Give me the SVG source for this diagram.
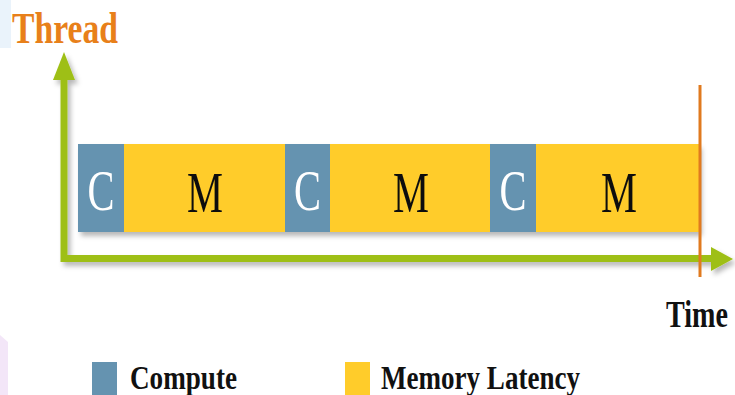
<svg xmlns="http://www.w3.org/2000/svg" width="735" height="395" viewBox="0 0 735 395">
  <defs>
    <filter id="shadow" x="-10%" y="-10%" width="130%" height="140%">
      <feDropShadow dx="3" dy="4" stdDeviation="2.5" flood-color="#000" flood-opacity="0.28"/>
    </filter>
    <style>
      .c { fill: #6593B0; }
      .m { fill: #FFCC2A; }
      .axis { stroke: #9EBF14; stroke-width: 7; fill: none; }
      .head { fill: #9EBF14; }
      .lc { font-family: "Liberation Serif", "Times New Roman", serif; font-size: 56px; fill: #ffffff; text-anchor: middle; }
      .lm { font-family: "Liberation Serif", "Times New Roman", serif; font-size: 56px; fill: #111111; text-anchor: middle; }
      .lbl { font-family: "Liberation Serif", "Times New Roman", serif; font-weight: bold; fill: #111111; }
    </style>
  </defs>
  <rect width="735" height="395" fill="#ffffff"/>
  <!-- faint slide background remnants -->
  <rect x="0" y="0" width="11" height="48" fill="#EAF3FB"/>
  <polygon points="0,335 8,342 8,395 0,395" fill="#F3E6F8"/>

  <g id="title">
    <text x="12" y="43" font-family="Liberation Serif, serif" font-weight="bold" font-size="44" fill="#E8801A" textLength="106" lengthAdjust="spacingAndGlyphs">Thread</text>
  </g>

  <g id="connectors" filter="url(#shadow)">
    <polyline class="axis" points="64,76 64,258.5 713,258.5"/>
    <polygon class="head" points="64,52 53,80 75,80"/>
    <polygon class="head" points="733,259 711,247 711,271"/>
  </g>

  <g id="bars" filter="url(#shadow)">
    <g id="c1"><rect class="c" x="78" y="144" width="46" height="88"/><text class="lc" x="101" y="210" textLength="27" lengthAdjust="spacingAndGlyphs">C</text></g>
    <g id="m1"><rect class="m" x="124" y="144" width="161" height="88"/><text class="lm" x="205" y="212" textLength="36" lengthAdjust="spacingAndGlyphs">M</text></g>
    <g id="c2"><rect class="c" x="285" y="144" width="45" height="88"/><text class="lc" x="307.5" y="210" textLength="27" lengthAdjust="spacingAndGlyphs">C</text></g>
    <g id="m2"><rect class="m" x="330" y="144" width="160" height="88"/><text class="lm" x="411" y="212" textLength="36" lengthAdjust="spacingAndGlyphs">M</text></g>
    <g id="c3"><rect class="c" x="490" y="144" width="46" height="88"/><text class="lc" x="513" y="210" textLength="27" lengthAdjust="spacingAndGlyphs">C</text></g>
    <g id="m3"><rect class="m" x="536" y="144" width="163" height="88"/><text class="lm" x="619" y="212" textLength="36" lengthAdjust="spacingAndGlyphs">M</text></g>
  </g>

  <g id="time-marker">
    <line x1="700" y1="85" x2="700" y2="277" stroke="#E07A1F" stroke-width="3"/>
  </g>

  <g id="time-label">
    <text class="lbl" transform="translate(666,327) scale(0.74,1)" x="0" y="0" font-size="38">Time</text>
  </g>

  <g id="legend">
    <rect class="c" x="92" y="362" width="25" height="33"/>
    <text class="lbl" x="130" y="389" font-size="34" textLength="107" lengthAdjust="spacingAndGlyphs">Compute</text>
    <rect class="m" x="345" y="362" width="25" height="33"/>
    <text class="lbl" x="381" y="389" font-size="34" textLength="199" lengthAdjust="spacingAndGlyphs">Memory Latency</text>
  </g>
</svg>
